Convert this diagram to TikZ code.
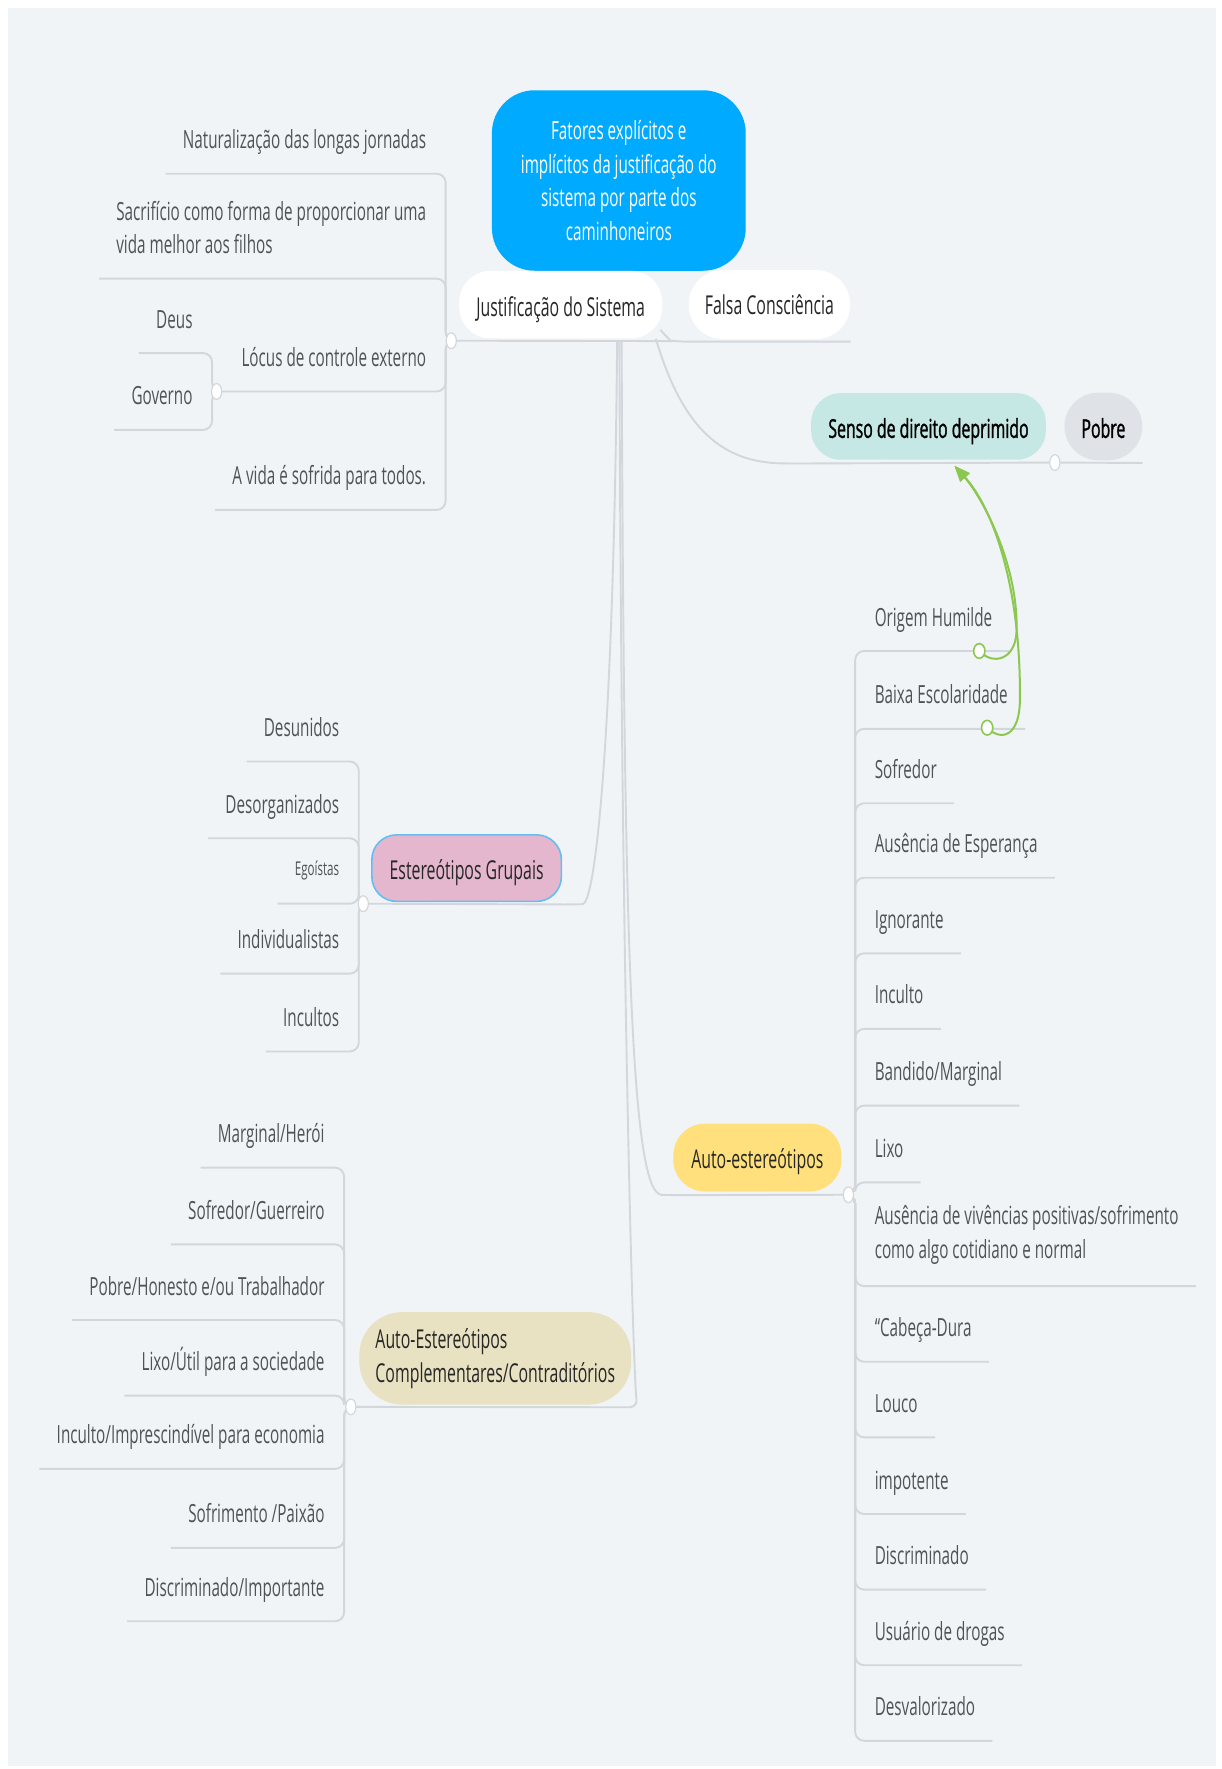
\documentclass[tikz,border=0pt]{standalone}
\usepackage{fontspec}
\setmainfont{Open Sans}[FakeStretch=0.61]
\newfontfamily\semibf{Open Sans}[FakeStretch=0.61, FakeBold=1.2]
\usetikzlibrary{shapes.geometric,arrows.meta}
\pgfdeclarelayer{bgl}
\pgfdeclarelayer{lines}
\pgfsetlayers{bgl,lines,main}
\newlength\upx
\setlength\upx{0.5642pt}
\definecolor{cBg}{HTML}{F0F4F7}
\definecolor{lnc}{HTML}{D2D7DC}
\definecolor{leaftxt}{HTML}{4E5358}
\definecolor{toptxt}{HTML}{262626}
\definecolor{cRoot}{HTML}{00AAFF}
\definecolor{cSenso}{HTML}{C5E8E5}
\definecolor{cPobre}{HTML}{DFE2E6}
\definecolor{cPink}{HTML}{E5B7CE}
\definecolor{cSel}{HTML}{66BDF2}
\definecolor{cYel}{HTML}{FFE07C}
\definecolor{cBeige}{HTML}{E8E1C2}
\definecolor{cGreen}{HTML}{8CC850}
\tikzset{
  conn/.style={draw=lnc, line width=0.95pt, rounded corners=8\upx},
  leafbase/.style={inner xsep=15\upx, inner ysep=0pt, text=leaftxt, font=\fontsize{12.5}{16.9}\selectfont},
  leaf/.style={leafbase, minimum height=60\upx, text height=11pt, text depth=1.7pt},
  leaftwo/.style={leafbase, minimum height=90\upx, align=left},
  topic/.style={inner sep=0pt, text=toptxt, font=\fontsize{13}{17}\selectfont},
  topicshift/.style={topic, text height=13pt, text depth=1.6pt},
  topicbold/.style={topicshift, text=black, font=\semibf\fontsize{13}{17}\selectfont},
  rootbox/.style={inner sep=0pt, fill=cRoot, text=white, align=center, minimum width=225\upx, minimum height=160\upx, rounded corners=38\upx, font=\fontsize{12.5}{16.9}\selectfont},
  junc/.style={ellipse, fill=white, draw=lnc, line width=0.6pt, minimum width=9\upx, minimum height=14\upx, inner sep=0pt},
  gcirc/.style={ellipse, draw=cGreen, fill=white, line width=0.8pt, minimum width=10\upx, minimum height=13\upx, inner sep=0pt},
  garrow/.style={draw=cGreen, line width=1pt, -{Triangle[length=7.9pt,width=6.2pt]}},
}
\begin{document}
\begin{tikzpicture}[x=0.5642pt, y=-0.5642pt]
\useasboundingbox (0,0) rectangle (1083,1568);
\begin{pgfonlayer}{bgl}
  \fill[white] (0,0) rectangle (1083,1568);
  \fill[cBg] (7,7) rectangle (1078,1565);
\end{pgfonlayer}

% main topics
\node[rootbox] (root) at (548.5,160) {Fatores explícitos e\\implícitos da justificação do\\sistema por parte dos\\caminhoneiros};
\node[topicshift, fill=white, minimum width=180\upx, minimum height=60\upx, rounded corners=28\upx] (jus) at (497,270) {Justificação do Sistema};
\node[topic, fill=white, minimum width=143\upx, minimum height=61\upx, rounded corners=30\upx] (falsa) at (682,270) {Falsa Consciência};
\node[topicbold, fill=cSenso, minimum width=208\upx, minimum height=59\upx, rounded corners=26\upx] (senso) at (823,378) {Senso de direito deprimido};
\node[topicbold, fill=cPobre, minimum width=69\upx, minimum height=60\upx, rounded corners=30\upx] (pobre) at (978,378) {Pobre};
\node[topicshift, fill=cPink, draw=cSel, line width=0.8pt, minimum width=168\upx, minimum height=59\upx, rounded corners=22\upx] (estg) at (413.6,769.5) {Estereótipos Grupais};
\node[topicshift, fill=cYel, minimum width=149\upx, minimum height=60\upx, rounded corners=28\upx] (autoe) at (671.3,1026) {Auto-estereótipos};
\node[topic, fill=cBeige, minimum width=241\upx, minimum height=82\upx, rounded corners=38\upx, align=left] (autoc) at (439,1204) {Auto-Estereótipos\\Complementares/Contraditórios};

% junctions
\node[junc] (J1) at (400,302) {};
\node[junc] (J2) at (192,347) {};
\node[junc] (J3) at (322,801) {};
\node[junc] (J4) at (311,1247) {};
\node[junc] (J5) at (752,1059) {};
\node[junc] (J6) at (935,410) {};
\coordinate (trunk) at (547,302);
\coordinate (vA) at (395,302);
\coordinate (vB) at (188,347);
\coordinate (vC) at (318,801);
\coordinate (vD) at (305,1247);
\coordinate (vE) at (758,1059);

% group A
\node[leaf, anchor=south east] (a1) at (393,154) {Naturalização das longas jornadas};
\node[leaftwo, anchor=south east] (a2) at (393,247) {Sacrifício como forma de proporcionar uma\\vida melhor aos filhos};
\node[leaf, anchor=south east] (a3) at (393,347) {Lócus de controle externo};
\node[leaf, anchor=south east] (a4) at (393,452) {A vida é sofrida para todos.};
% group B
\node[leaf, anchor=south east] (b1) at (186,313) {Deus};
\node[leaf, anchor=south east] (b2) at (186,381) {Governo};
% group C
\node[leaf, anchor=south east] (c1) at (316,675) {Desunidos};
\node[leaf, anchor=south east] (c2) at (316,743) {Desorganizados};
\node[leaf, anchor=south east, font=\fontsize{9.5}{12}\selectfont, text height=7.5pt, text depth=1.5pt] (c3) at (316,801) {Egoístas};
\node[leaf, anchor=south east] (c4) at (316,863) {Individualistas};
\node[leaf, anchor=south east] (c5) at (316,932) {Incultos};
% group D
\node[leaf, anchor=south east] (d1) at (303,1035) {Marginal/Herói};
\node[leaf, anchor=south east] (d2) at (303,1103) {Sofredor/Guerreiro};
\node[leaf, anchor=south east] (d3) at (303,1170) {Pobre/Honesto e/ou Trabalhador};
\node[leaf, anchor=south east] (d4) at (303,1237) {Lixo/Útil para a sociedade};
\node[leaf, anchor=south east] (d5) at (303,1302) {Inculto/Imprescindível para economia};
\node[leaf, anchor=south east] (d6) at (303,1372) {Sofrimento /Paixão};
\node[leaf, anchor=south east] (d7) at (303,1437) {Discriminado/Importante};
% group E
\node[leaf, anchor=south west] (e1) at (760,577) {Origem Humilde};
\node[leaf, anchor=south west] (e2) at (760,646) {Baixa Escolaridade};
\node[leaf, anchor=south west] (e3) at (760,712) {Sofredor};
\node[leaf, anchor=south west] (e4) at (760,778) {Ausência de Esperança};
\node[leaf, anchor=south west] (e5) at (760,845) {Ignorante};
\node[leaf, anchor=south west] (e6) at (760,912) {Inculto};
\node[leaf, anchor=south west] (e7) at (760,980) {Bandido/Marginal};
\node[leaf, anchor=south west] (e8) at (760,1048) {Lixo};
\node[leaftwo, anchor=south west] (e9) at (760,1140) {Ausência de vivências positivas/sofrimento\\como algo cotidiano e normal};
\node[leaf, anchor=south west] (e10) at (760,1207) {“Cabeça-Dura};
\node[leaf, anchor=south west] (e11) at (760,1274) {Louco};
\node[leaf, anchor=south west] (e12) at (760,1342) {impotente};
\node[leaf, anchor=south west] (e13) at (760,1409) {Discriminado};
\node[leaf, anchor=south west] (e14) at (760,1476) {Usuário de drogas};
\node[leaf, anchor=south west] (e15) at (760,1543) {Desvalorizado};

\begin{pgfonlayer}{lines}
  % main connectors
  \draw[conn] (J1.center) -- ([shift={(9,2)}]jus.south east);
  \draw[conn] ([shift={(-2,-8)}]jus.south east) .. controls (591,299) and (595,302) .. ([shift={(-8,2)}]falsa.south west) -- ([shift={(0,2)}]falsa.south east);
  \draw[conn] ([shift={(-6,0)}]jus.south east) .. controls (605,380) and (640,410) .. ([shift={(-17,3)}]senso.south west) -- (J6.center) -- ([shift={(0,2)}]pobre.south east);
  \draw[conn] (trunk) .. controls (544,650) and (528,801) .. ([shift={(10,2)}]estg.south east) -- (J3.center);
  \draw[conn] ([xshift=2\upx]trunk) .. controls (551,900) and (562,1230) .. ([shift={(6,2)}]autoc.south east) -- (J4.center);
  \draw[conn] ([xshift=4\upx]trunk) .. controls (553,850) and (560,1058) .. ([shift={(-2,3)}]autoe.south west) -- (J5.center);
  % group A
  \foreach \n in {a1,a2,a4} \draw[conn] (J1.center) -- (vA) -- (vA |- \n.south) -- (\n.south west);
  \draw[conn] (J1.center) -- (vA) -- (vA |- a3.south) -- (J2.center);
  % group B
  \foreach \n in {b1,b2} \draw[conn] (J2.center) -- (vB) -- (vB |- \n.south) -- (\n.south west);
  % group C
  \foreach \n in {c1,c2,c3,c4,c5} \draw[conn] (J3.center) -- (vC) -- (vC |- \n.south) -- (\n.south west);
  % group D
  \foreach \n in {d1,d2,d3,d4,d5,d6,d7} \draw[conn] (J4.center) -- (vD) -- (vD |- \n.south) -- (\n.south west);
  % group E
  \foreach \n in {e1,e2,e3,e4,e5,e6,e7,e8,e9,e10,e11,e12,e13,e14,e15} \draw[conn] (J5.center) -- (vE) -- (vE |- \n.south) -- (\n.south east);
\end{pgfonlayer}

% green relationship arrows
\coordinate (g1) at (868,577);
\coordinate (g2) at (875,645);
\coordinate (tip) at ([shift={(23,5)}]senso.south);
\draw[garrow] (g1) .. controls (880,590) and (900,585) .. (901,560) .. controls (903,500) and (870,440) .. (tip);
\draw[garrow] (g2) .. controls (888,658) and (904,652) .. (904,620) .. controls (905,520) and (880,450) .. (tip);
\node[gcirc] (gc1) at (g1) {};
\node[gcirc] (gc2) at (g2) {};
\end{tikzpicture}
\end{document}
